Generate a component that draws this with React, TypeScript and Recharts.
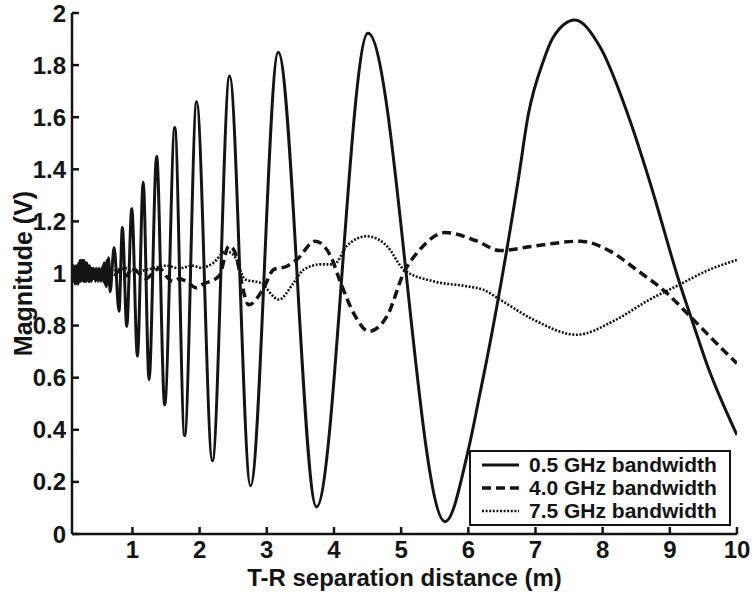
import { LineChart, Line, XAxis, YAxis, Legend } from 'recharts'

// x ticks / y ticks
const xTicks = [1, 2, 3, 4, 5, 6, 7, 8, 9, 10]
const yTicks = [0, 0.2, 0.4, 0.6, 0.8, 1, 1.2, 1.4, 1.6, 1.8, 2]

// 0.5 GHz bandwidth (solid)
const x05 = [
  0.10, 0.11, 0.12, 0.13, 0.14, 0.15, 0.16, 0.17, 0.18, 0.19,
  0.20, 0.21, 0.22, 0.23, 0.24, 0.25, 0.26, 0.27, 0.28, 0.29,
  0.30, 0.31, 0.32, 0.33, 0.34, 0.35, 0.36, 0.37, 0.38, 0.39,
  0.40, 0.41, 0.42, 0.43, 0.44, 0.45, 0.46, 0.47, 0.48, 0.49,
  0.50, 0.51, 0.52, 0.53, 0.54, 0.55, 0.56, 0.57, 0.58, 0.59,
  0.60, 0.61, 0.62, 0.63, 0.645,
  0.667, 0.727, 0.80, 0.85, 0.915, 0.99, 1.074, 1.16, 1.247, 1.36, 1.48, 1.63, 1.777,
  1.955, 2.19, 2.446, 2.758, 3.17, 3.74, 4.507, 5.655,
  6.0, 6.175, 6.275, 6.745, 6.893, 7.116, 7.26, 7.587, 7.96, 8.40, 8.69, 9.15, 9.37, 9.54, 10,
]
const y05 = [
  1.00, 0.97, 1.03, 0.97, 1.02, 0.96, 1.03, 0.97, 1.02, 0.96,
  1.04, 0.97, 1.05, 0.97, 1.05, 0.98, 1.05, 0.97, 1.05, 0.97,
  1.04, 0.97, 1.04, 0.98, 1.03, 0.97, 1.03, 0.97, 1.02, 0.97,
  1.02, 0.98, 1.02, 0.98, 1.01, 0.97, 1.02, 0.98, 1.01, 0.97,
  1.02, 0.98, 1.01, 0.97, 1.02, 0.98, 1.03, 0.97, 1.04, 0.96,
  1.03, 0.95, 1.05, 0.96, 1.06,
  0.93, 1.10, 0.855, 1.177, 0.797, 1.25, 0.682, 1.35, 0.592, 1.45, 0.496, 1.56, 0.377,
  1.659, 0.281, 1.758, 0.185, 1.849, 0.104, 1.922, 0.047,
  0.323, 0.541, 0.669, 1.362, 1.61, 1.815, 1.905, 1.973, 1.87, 1.592, 1.362, 0.96, 0.79, 0.66, 0.38,
]

// 4.0 GHz bandwidth (dashed)
const x40 = [
  0.1, 0.2, 0.3, 0.4, 0.5, 0.6, 0.7, 0.8, 0.9, 1.0, 1.1, 1.2, 1.3, 1.4, 1.5, 1.6, 1.7, 1.8,
  1.95, 2.06, 2.29, 2.435, 2.51, 2.73, 2.955, 3.10, 3.30, 3.45,
  3.72, 3.95, 4.10, 4.29, 4.52, 4.79, 5.04, 5.28, 5.655,
  6.125, 6.47, 6.97, 7.66, 8.11, 8.50, 8.95, 9.35, 9.89, 10,
]
const y40 = [
  1.0, 1.02, 0.99, 1.01, 0.99, 1.0, 0.98, 1.01, 0.99, 1.02, 1.0, 0.98, 1.0, 1.02, 0.99, 0.97, 0.98, 0.97,
  0.945, 0.96, 0.99, 1.105, 1.09, 0.88, 0.945, 1.015, 1.028, 1.054,
  1.124, 1.067, 0.964, 0.849, 0.778, 0.836, 1.003, 1.092, 1.157,
  1.125, 1.088, 1.105, 1.124, 1.086, 1.015, 0.926, 0.823, 0.682, 0.655,
]

// 7.5 GHz bandwidth (dotted)
const x75 = [
  0.1, 0.3, 0.5, 0.7, 0.9, 1.1, 1.3, 1.5, 1.7, 1.9,
  2.02, 2.2, 2.39, 2.51, 2.68, 2.905, 3.18, 3.40, 3.55, 3.80,
  4.00, 4.19, 4.49, 4.79, 5.04, 5.48, 5.98, 6.22, 6.47, 6.97,
  7.61, 8.20, 8.70, 9.15, 9.59, 9.94, 10,
]
const y75 = [
  1.0, 1.01, 1.0, 1.01, 1.02, 1.01, 1.02, 1.03, 1.02, 1.03,
  1.022, 1.04, 1.085, 1.07, 0.977, 0.964, 0.90, 0.964, 1.015, 1.035,
  1.035, 1.105, 1.143, 1.105, 1.015, 0.97, 0.951, 0.938, 0.90, 0.823,
  0.765, 0.823, 0.90, 0.958, 1.015, 1.047, 1.052,
]

const zip = (xs: number[], ys: number[]) => xs.map((x, i) => ({ x, y: ys[i] }))

const series = [
  { name: '0.5 GHz bandwidth', data: zip(x05, y05), dash: undefined, width: 3 },
  { name: '4.0 GHz bandwidth', data: zip(x40, y40), dash: '9 5', width: 3.5 },
  { name: '7.5 GHz bandwidth', data: zip(x75, y75), dash: '2 1.6', width: 2.6 },
]

const INK = '#141414'
const FONT = "'Liberation Sans', Arial, sans-serif"
const tickStyle = { fill: INK, fontSize: 24, fontWeight: 700, fontFamily: FONT }

function LegendBox() {
  return (
    <div style={{
      width: 258, height: 71, border: `2px solid ${INK}`, background: '#fff',
      padding: '1px 0 0 0', boxSizing: 'content-box',
    }}>
      {series.map(s => (
        <div key={s.name} style={{ display: 'flex', alignItems: 'center', height: 23 }}>
          <svg width={58} height={10}>
            <line x1={11} x2={48} y1={5} y2={5} stroke={INK}
              strokeWidth={s.width} strokeDasharray={s.dash} />
          </svg>
          <span style={{
            fontFamily: FONT, fontWeight: 700, fontSize: 21, color: INK, lineHeight: '23px',
          }}>{s.name}</span>
        </div>
      ))}
    </div>
  )
}

export default function App() {
  return (
    <div style={{ position: 'absolute', left: 0, top: 0, background: '#fff' }}>
      <LineChart width={752} height={596} margin={{ top: 13, right: 15, bottom: 0, left: 0 }}>
        <XAxis
          xAxisId="b" type="number" dataKey="x" domain={[0.1, 10]} ticks={xTicks}
          allowDataOverflow height={62}
          axisLine={{ stroke: INK, strokeWidth: 2.5 }}
          tickLine={{ stroke: INK, strokeWidth: 2.5 }}
          tickSize={-7} tickMargin={14} tick={tickStyle}
          label={{
            value: 'T-R separation distance (m)', position: 'insideBottom', offset: 10,
            style: { fill: INK, fontSize: 24, fontWeight: 700, fontFamily: FONT },
          }}
        />
        <XAxis
          xAxisId="t" orientation="top" type="number" dataKey="x" domain={[0.1, 10]}
          ticks={xTicks.slice(0, 9)} allowDataOverflow height={0}
          axisLine={{ stroke: INK, strokeWidth: 2.5 }}
          tickLine={{ stroke: INK, strokeWidth: 2.5 }}
          tickSize={-7} tick={false}
        />
        <YAxis
          yAxisId="l" type="number" domain={[0, 2]} ticks={yTicks} width={72}
          allowDataOverflow
          axisLine={{ stroke: INK, strokeWidth: 2.5 }}
          tickLine={{ stroke: INK, strokeWidth: 2.5 }}
          tickSize={-7} tickMargin={13} tick={tickStyle}
          tickFormatter={(v: number) => String(v)}
          label={{
            value: 'Magnitude (V)', angle: -90, position: 'center', dx: -13,
            style: { fill: INK, fontSize: 25, fontWeight: 700, fontFamily: FONT, textAnchor: 'middle' },
          }}
        />
        <YAxis
          yAxisId="r" orientation="right" type="number" domain={[0, 2]}
          ticks={yTicks.slice(1, 10)} width={0} allowDataOverflow
          axisLine={{ stroke: INK, strokeWidth: 2.5 }}
          tickLine={{ stroke: INK, strokeWidth: 2.5 }}
          tickSize={-7} tick={false}
        />
        {series.map(s => (
          <Line
            key={s.name}
            xAxisId="b" yAxisId="l"
            data={s.data} dataKey="y" name={s.name}
            type="monotone"
            stroke={INK} strokeWidth={s.width} strokeDasharray={s.dash}
            dot={false} activeDot={false}
            isAnimationActive={false}
          />
        ))}
        <Legend
          layout="horizontal" verticalAlign="middle" align="center"
          wrapperStyle={{ left: 469, top: 450, width: 262 }}
          content={() => <LegendBox />}
        />
      </LineChart>
    </div>
  )
}
